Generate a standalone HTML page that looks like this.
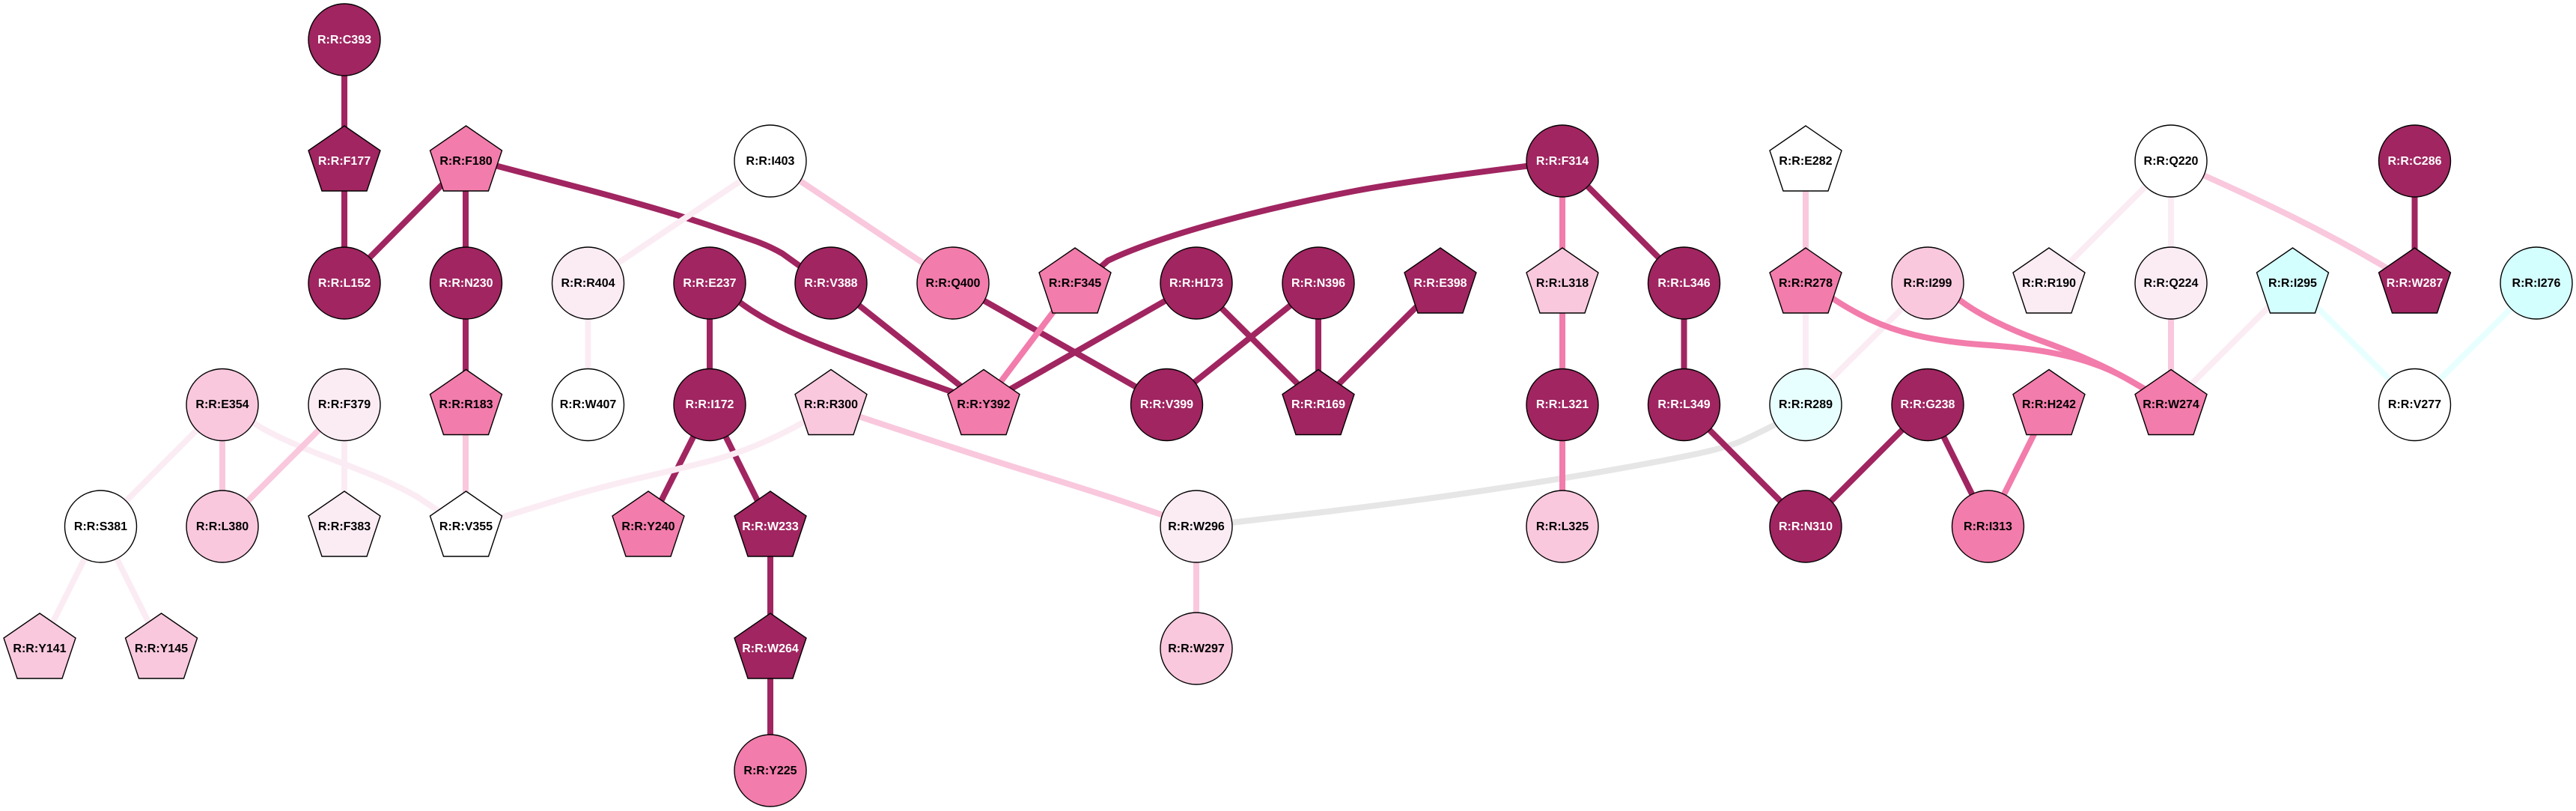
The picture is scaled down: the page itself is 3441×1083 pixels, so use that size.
<!DOCTYPE html>
<html><head><meta charset="utf-8"><style>
html,body{margin:0;padding:0;background:#fff}
svg{display:block}
text{font-family:"Liberation Sans",Arial,sans-serif;font-weight:bold;font-size:16px;text-anchor:middle;text-rendering:geometricPrecision}
.n{stroke:#000;stroke-width:1.4}
.e{fill:none;stroke-width:8}
.d{stroke:#a02560}.p{stroke:#f27cab}.l{stroke:#f9c8dd}.x{stroke:#fbecf4}.c{stroke:#e8ffff}.g{stroke:#e6e6e6}
.w{fill:#fff}.k{fill:#000}
</style></head><body>
<svg width="3441" height="1083" viewBox="0 0 3441 1083" xmlns="http://www.w3.org/2000/svg">
<rect width="3441" height="1083" fill="#fff"/>
<g class="e">
<path class="d e" d="M460 53V215"/>
<path class="d e" d="M460 215V378"/>
<path class="d e" d="M622 215L460 378"/>
<path class="d e" d="M622 215V378"/>
<path class="d e" d="M650 218Q734 240 770 249.5Q807 259 858 273.5Q909 288 946 300.5Q983 313 1005 320.5Q1027 328 1045 338.5L1075 360"/>
<path class="d e" d="M622 378V540"/>
<path class="x e" d="M1029 215L785.5 378"/>
<path class="l e" d="M1029 215L1273 378"/>
<path class="x e" d="M785.5 378V540"/>
<path class="d e" d="M948 378V540"/>
<path class="d e" d="M975 393C1040 450 1150 478 1290 530"/>
<path class="d e" d="M1110 378L1314 540"/>
<path class="d e" d="M1273 378L1558.5 540"/>
<path class="p e" d="M1436 378L1314 540"/>
<path class="d e" d="M2070 218Q1883 241 1810 255Q1737 269 1671 285.5Q1605 302 1557 318Q1509 334 1480 348L1455 370"/>
<path class="d e" d="M1598 378L1314 540"/>
<path class="d e" d="M1598 378L1761 540"/>
<path class="d e" d="M1761 378L1558.5 540"/>
<path class="d e" d="M1761 378V540"/>
<path class="d e" d="M1924 378L1761 540"/>
<path class="p e" d="M2087 215V378"/>
<path class="d e" d="M2087 215L2249.5 378"/>
<path class="p e" d="M2087 378V540"/>
<path class="g e" d="M2385 560Q2340 583 2323.5 590Q2307 597 2273.5 604.5Q2240 612 2164.5 625.5Q2089 639 1986 654.5Q1883 670 1766 684L1600 703"/>
<path class="p e" d="M2087 540V703"/>
<path class="d e" d="M2249.5 378V540"/>
<path class="d e" d="M2249.5 540L2412 703"/>
<path class="d e" d="M2575 540L2412 703"/>
<path class="d e" d="M2575 540L2655.5 703"/>
<path class="p e" d="M2737 540L2655.5 703"/>
<path class="l e" d="M2412 215V378"/>
<path class="x e" d="M2412 378V540"/>
<path class="x e" d="M2575 378L2412 540"/>
<path class="p e" d="M2430 385Q2449 401 2483.5 419.5Q2518 438 2558.5 447.5Q2599 457 2650.5 460.5Q2702 464 2735 470Q2768 476 2793.5 484.75Q2819 493 2845 508L2895 537"/>
<path class="p e" d="M2600 385Q2617 403 2648.5 420.5Q2680 438 2720 452.75Q2760 467 2789.5 480.25Q2819 493 2845 508L2895 537"/>
<path class="x e" d="M2900 215L2737 378"/>
<path class="x e" d="M2900 215V378"/>
<path class="l e" d="M2930 228C3020 268 3110 310 3205 368"/>
<path class="d e" d="M3225.5 215V378"/>
<path class="l e" d="M2900 378V540"/>
<path class="x e" d="M3062.5 378L2900 540"/>
<path class="c e" d="M3062.5 378L3225.5 540"/>
<path class="c e" d="M3388 378L3225.5 540"/>
<path class="l e" d="M622 540V703"/>
<path class="x e" d="M297 540L134.5 703"/>
<path class="l e" d="M297 540V703"/>
<path class="x e" d="M320 550Q337 566 366.5 580.5Q396 595 432.5 609Q469 623 498.5 635Q528 647 557.5 663.5L605 695"/>
<path class="l e" d="M460 540L297 703"/>
<path class="x e" d="M460 540V703"/>
<path class="d e" d="M948 540L866 703"/>
<path class="d e" d="M948 540L1029 703"/>
<path class="x e" d="M1100 548Q1060 573 1020 590.5Q980 608 941 617.5Q903 627 860 637Q821 646 770 660L650 697"/>
<path class="l e" d="M1135 549L1150 557Q1297 606 1370 628.5Q1443 651 1498 669L1598 703"/>
<path class="d e" d="M1029 703V866"/>
<path class="d e" d="M1029 866V1029"/>
<path class="x e" d="M134.5 703L53 866"/>
<path class="x e" d="M134.5 703L216 866"/>
<path class="l e" d="M1598 703V866"/>
</g>

<ellipse class="n" cx="460" cy="53" rx="48" ry="48" fill="#a02560"/><text class="w" x="460" y="58">R:R:C393</text>
<polygon class="n" transform="translate(460 215)" points="0,-47 48,-14 30,40 -30,40 -48,-14" fill="#a02560"/><text class="w" x="460" y="220">R:R:F177</text>
<polygon class="n" transform="translate(622.5 215)" points="0,-47 48,-14 30,40 -30,40 -48,-14" fill="#f27cab"/><text class="k" x="622.5" y="220">R:R:F180</text>
<ellipse class="n" cx="1029" cy="215" rx="48" ry="48" fill="#fff"/><text class="k" x="1029" y="220">R:R:I403</text>
<ellipse class="n" cx="2087" cy="215" rx="48" ry="48" fill="#a02560"/><text class="w" x="2087" y="220">R:R:F314</text>
<polygon class="n" transform="translate(2412 215)" points="0,-47 48,-14 30,40 -30,40 -48,-14" fill="#fff"/><text class="k" x="2412" y="220">R:R:E282</text>
<ellipse class="n" cx="2900" cy="215" rx="48" ry="48" fill="#fff"/><text class="k" x="2900" y="220">R:R:Q220</text>
<ellipse class="n" cx="3225.5" cy="215" rx="48" ry="48" fill="#a02560"/><text class="w" x="3225.5" y="220">R:R:C286</text>

<ellipse class="n" cx="460" cy="378" rx="48" ry="48" fill="#a02560"/><text class="w" x="460" y="383">R:R:L152</text>
<ellipse class="n" cx="622.5" cy="378" rx="48" ry="48" fill="#a02560"/><text class="w" x="622.5" y="383">R:R:N230</text>
<ellipse class="n" cx="785.5" cy="378" rx="48" ry="48" fill="#fbecf4"/><text class="k" x="785.5" y="383">R:R:R404</text>
<ellipse class="n" cx="948" cy="378" rx="48" ry="48" fill="#a02560"/><text class="w" x="948" y="383">R:R:E237</text>
<ellipse class="n" cx="1110" cy="378" rx="48" ry="48" fill="#a02560"/><text class="w" x="1110" y="383">R:R:V388</text>
<ellipse class="n" cx="1273" cy="378" rx="48" ry="48" fill="#f27cab"/><text class="k" x="1273" y="383">R:R:Q400</text>
<polygon class="n" transform="translate(1436 378)" points="0,-47 48,-14 30,40 -30,40 -48,-14" fill="#f27cab"/><text class="k" x="1436" y="383">R:R:F345</text>
<ellipse class="n" cx="1598" cy="378" rx="48" ry="48" fill="#a02560"/><text class="w" x="1598" y="383">R:R:H173</text>
<ellipse class="n" cx="1761" cy="378" rx="48" ry="48" fill="#a02560"/><text class="w" x="1761" y="383">R:R:N396</text>
<polygon class="n" transform="translate(1924 378)" points="0,-47 48,-14 30,40 -30,40 -48,-14" fill="#a02560"/><text class="w" x="1924" y="383">R:R:E398</text>
<polygon class="n" transform="translate(2087 378)" points="0,-47 48,-14 30,40 -30,40 -48,-14" fill="#f9c8dd"/><text class="k" x="2087" y="383">R:R:L318</text>
<ellipse class="n" cx="2249.5" cy="378" rx="48" ry="48" fill="#a02560"/><text class="w" x="2249.5" y="383">R:R:L346</text>
<polygon class="n" transform="translate(2412 378)" points="0,-47 48,-14 30,40 -30,40 -48,-14" fill="#f27cab"/><text class="k" x="2412" y="383">R:R:R278</text>
<ellipse class="n" cx="2575" cy="378" rx="48" ry="48" fill="#f9c8dd"/><text class="k" x="2575" y="383">R:R:I299</text>
<polygon class="n" transform="translate(2737 378)" points="0,-47 48,-14 30,40 -30,40 -48,-14" fill="#fbecf4"/><text class="k" x="2737" y="383">R:R:R190</text>
<ellipse class="n" cx="2900" cy="378" rx="48" ry="48" fill="#fbecf4"/><text class="k" x="2900" y="383">R:R:Q224</text>
<polygon class="n" transform="translate(3062.5 378)" points="0,-47 48,-14 30,40 -30,40 -48,-14" fill="#d4ffff"/><text class="k" x="3062.5" y="383">R:R:I295</text>
<polygon class="n" transform="translate(3225.5 378)" points="0,-47 48,-14 30,40 -30,40 -48,-14" fill="#a02560"/><text class="w" x="3225.5" y="383">R:R:W287</text>
<ellipse class="n" cx="3388" cy="378" rx="48" ry="48" fill="#d4ffff"/><text class="k" x="3388" y="383">R:R:I276</text>

<ellipse class="n" cx="297" cy="540.5" rx="48" ry="48" fill="#f9c8dd"/><text class="k" x="297" y="545">R:R:E354</text>
<ellipse class="n" cx="460" cy="540.5" rx="48" ry="48" fill="#fbecf4"/><text class="k" x="460" y="545">R:R:F379</text>
<polygon class="n" transform="translate(622.5 540.5)" points="0,-47 48,-14 30,40 -30,40 -48,-14" fill="#f27cab"/><text class="k" x="622.5" y="545">R:R:R183</text>
<ellipse class="n" cx="785.5" cy="540.5" rx="48" ry="48" fill="#fff"/><text class="k" x="785.5" y="545">R:R:W407</text>
<ellipse class="n" cx="948" cy="540.5" rx="48" ry="48" fill="#a02560"/><text class="w" x="948" y="545">R:R:I172</text>
<polygon class="n" transform="translate(1110 540.5)" points="0,-47 48,-14 30,40 -30,40 -48,-14" fill="#f9c8dd"/><text class="k" x="1110" y="545">R:R:R300</text>
<polygon class="n" transform="translate(1314 540.5)" points="0,-47 48,-14 30,40 -30,40 -48,-14" fill="#f27cab"/><text class="k" x="1314" y="545">R:R:Y392</text>
<ellipse class="n" cx="1558.5" cy="540.5" rx="48" ry="48" fill="#a02560"/><text class="w" x="1558.5" y="545">R:R:V399</text>
<polygon class="n" transform="translate(1761 540.5)" points="0,-47 48,-14 30,40 -30,40 -48,-14" fill="#a02560"/><text class="w" x="1761" y="545">R:R:R169</text>
<ellipse class="n" cx="2087" cy="540.5" rx="48" ry="48" fill="#a02560"/><text class="w" x="2087" y="545">R:R:L321</text>
<ellipse class="n" cx="2249.5" cy="540.5" rx="48" ry="48" fill="#a02560"/><text class="w" x="2249.5" y="545">R:R:L349</text>
<ellipse class="n" cx="2412" cy="540.5" rx="48" ry="48" fill="#e8ffff"/><text class="k" x="2412" y="545">R:R:R289</text>
<ellipse class="n" cx="2575" cy="540.5" rx="48" ry="48" fill="#a02560"/><text class="w" x="2575" y="545">R:R:G238</text>
<polygon class="n" transform="translate(2737 540.5)" points="0,-47 48,-14 30,40 -30,40 -48,-14" fill="#f27cab"/><text class="k" x="2737" y="545">R:R:H242</text>
<polygon class="n" transform="translate(2900 540.5)" points="0,-47 48,-14 30,40 -30,40 -48,-14" fill="#f27cab"/><text class="k" x="2900" y="545">R:R:W274</text>
<ellipse class="n" cx="3225.5" cy="540.5" rx="48" ry="48" fill="#fff"/><text class="k" x="3225.5" y="545">R:R:V277</text>

<ellipse class="n" cx="134.5" cy="703" rx="48" ry="48" fill="#fff"/><text class="k" x="134.5" y="708">R:R:S381</text>
<ellipse class="n" cx="297" cy="703" rx="48" ry="48" fill="#f9c8dd"/><text class="k" x="297" y="708">R:R:L380</text>
<polygon class="n" transform="translate(460 703)" points="0,-47 48,-14 30,40 -30,40 -48,-14" fill="#fbecf4"/><text class="k" x="460" y="708">R:R:F383</text>
<polygon class="n" transform="translate(622.5 703)" points="0,-47 48,-14 30,40 -30,40 -48,-14" fill="#fff"/><text class="k" x="622.5" y="708">R:R:V355</text>
<polygon class="n" transform="translate(866 703)" points="0,-47 48,-14 30,40 -30,40 -48,-14" fill="#f27cab"/><text class="k" x="866" y="708">R:R:Y240</text>
<polygon class="n" transform="translate(1029 703)" points="0,-47 48,-14 30,40 -30,40 -48,-14" fill="#a02560"/><text class="w" x="1029" y="708">R:R:W233</text>
<ellipse class="n" cx="1598" cy="703" rx="48" ry="48" fill="#fbecf4"/><text class="k" x="1598" y="708">R:R:W296</text>
<ellipse class="n" cx="2087" cy="703" rx="48" ry="48" fill="#f9c8dd"/><text class="k" x="2087" y="708">R:R:L325</text>
<ellipse class="n" cx="2412" cy="703" rx="48" ry="48" fill="#a02560"/><text class="w" x="2412" y="708">R:R:N310</text>
<ellipse class="n" cx="2655.5" cy="703" rx="48" ry="48" fill="#f27cab"/><text class="k" x="2655.5" y="708">R:R:I313</text>

<polygon class="n" transform="translate(53 866)" points="0,-47 48,-14 30,40 -30,40 -48,-14" fill="#f9c8dd"/><text class="k" x="53" y="871">R:R:Y141</text>
<polygon class="n" transform="translate(215.5 866)" points="0,-47 48,-14 30,40 -30,40 -48,-14" fill="#f9c8dd"/><text class="k" x="215.5" y="871">R:R:Y145</text>
<polygon class="n" transform="translate(1029 866)" points="0,-47 48,-14 30,40 -30,40 -48,-14" fill="#a02560"/><text class="w" x="1029" y="871">R:R:W264</text>
<ellipse class="n" cx="1598" cy="866" rx="48" ry="48" fill="#f9c8dd"/><text class="k" x="1598" y="871">R:R:W297</text>
<ellipse class="n" cx="1029" cy="1029" rx="48" ry="48" fill="#f27cab"/><text class="k" x="1029" y="1034">R:R:Y225</text>
</svg>
</body></html>
